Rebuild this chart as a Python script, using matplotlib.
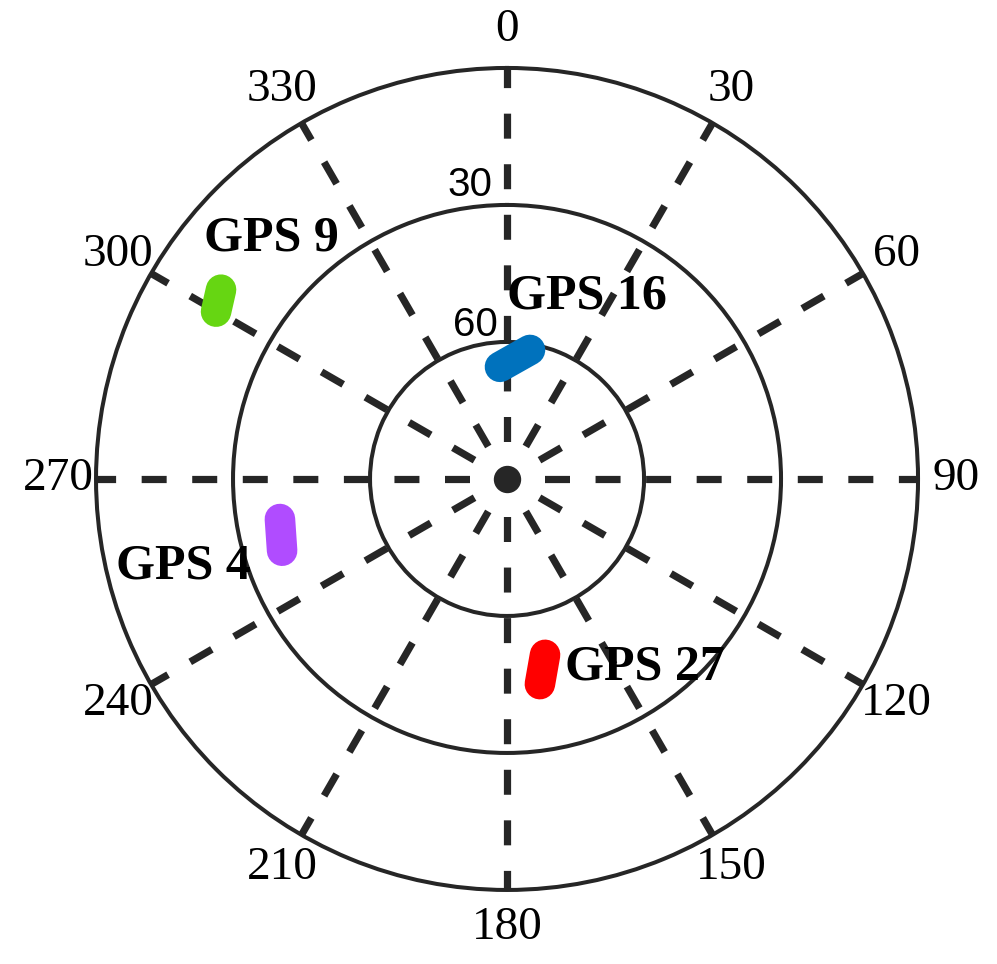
import numpy as np
import matplotlib.pyplot as plt

plt.rcParams['lines.scale_dashes'] = False

# Données des traces satellites (azimut en degrés, élévation en degrés)
sat_names = ['GPS 16', 'GPS 9', 'GPS 4', 'GPS 27']
sat_az = [[356.4, 10.1], [303.5, 299.9], [260.0, 252.3], [167.8, 170.9]]
sat_el = [[65.4, 61.3], [14.9, 16.5], [39.5, 38.3], [50.6, 44.5]]
sat_colors = ['#0072BD', '#66D612', '#B04CFF', '#FF0000']

az_ticks = np.arange(0, 360, 30)
az_labels = [str(a) for a in az_ticks]
el_rings = [30, 60]

# Position des étiquettes (azimut, rayon = 90 - élévation)
name_pos = [(23.6, 43.7), (315.6, 73.6), (254.8, 73.5), (143.9, 51.2)]
ring_label_pos = [(-7.2, 64.9), (-11.7, 34.4)]

grey = '#262626'

fig = plt.figure(figsize=(9.97, 9.64), dpi=100)
ax = fig.add_axes([0.0963, 0.0768, 0.8245, 0.8527], projection='polar')
ax.set_theta_zero_location('N')
ax.set_theta_direction(-1)
ax.set_ylim(0, 90)

ax.set_thetagrids(az_ticks, az_labels, fontsize=34, family='Liberation Serif')
ax.tick_params(axis='x', pad=17)
ax.set_rgrids([90 - e for e in el_rings], labels=['' for e in el_rings])
ax.xaxis.grid(True, color=grey, linewidth=5.2, linestyle=(9.4, (18.0, 18.4)))
ax.yaxis.grid(True, color=grey, linewidth=2.9, linestyle='-')
ax.spines['polar'].set_linewidth(2.9)
ax.spines['polar'].set_color(grey)

for e, (t, r) in zip(el_rings, ring_label_pos):
    ax.text(np.radians(t), r, str(e), fontsize=29, family='Liberation Sans',
            ha='center', va='center')

ax.plot(0, 0, 'o', color=grey, markersize=18.7, zorder=5)

for name, az, el, c, (t, r) in zip(sat_names, sat_az, sat_el, sat_colors, name_pos):
    ax.plot(np.radians(az), 90 - np.array(el), color=c, linewidth=22,
            solid_capstyle='round', zorder=4)
    ax.text(np.radians(t), r, name, fontsize=36, fontweight='bold',
            family='Liberation Serif', ha='center', va='center', zorder=6)

plt.savefig('out.png', dpi=100)
